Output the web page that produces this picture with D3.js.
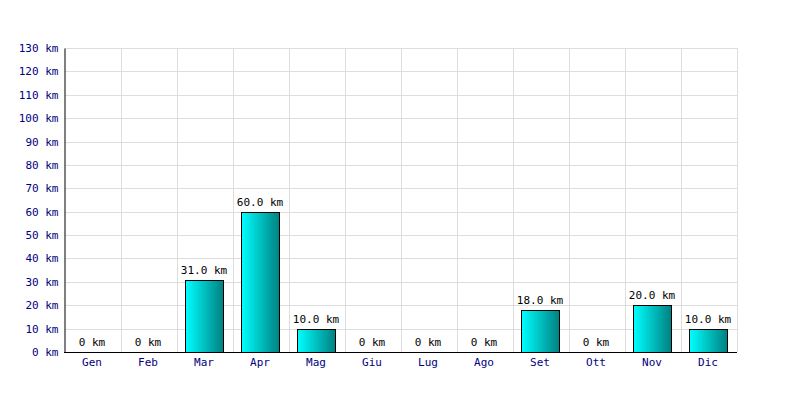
<!DOCTYPE html>
<html><head><meta charset="utf-8">
<script src="https://cdn.jsdelivr.net/npm/d3@7"></script>
<style>body{margin:0;background:#fff}svg text{font-family:"DejaVu Sans Mono",monospace;font-size:11px}</style>
</head><body><svg id="c" width="800" height="400"></svg>
<script>
const months = ["Gen","Feb","Mar","Apr","Mag","Giu","Lug","Ago","Set","Ott","Nov","Dic"];
const km = [0,0,31,60,10,0,0,0,18,0,20,10];
const yTicks = [0,10,20,30,40,50,60,70,80,90,100,110,120,130];

const svg = d3.select("#c");
const L = 65, R = 737, T = 48, B = 352;
const x = d3.scaleBand().domain(months).range([L-1, R-1]).paddingInner(0.32).paddingOuter(0.16);
const xg = d3.scaleBand().domain(months).range([L, R]);
const y = d3.scaleLinear().domain([0,130]).range([B, T]);

const defs = svg.append("defs");
const g = defs.append("linearGradient").attr("id","grad").attr("x1","0%").attr("x2","100%").attr("y1","0%").attr("y2","0%");
g.append("stop").attr("offset","0%").attr("stop-color","#00ffff");
g.append("stop").attr("offset","100%").attr("stop-color","#008080");

// grid
svg.append("g").selectAll("line").data(yTicks.filter(d=>d>0)).join("line")
  .attr("x1",L).attr("x2",R).attr("y1",d=>Math.round(y(d))+0.5).attr("y2",d=>Math.round(y(d))+0.5)
  .attr("stroke","#dddddd");
svg.append("g").selectAll("line").data(months).join("line")
  .attr("x1",d=>xg(d)+xg.bandwidth()+0.5).attr("x2",d=>xg(d)+xg.bandwidth()+0.5)
  .attr("y1",T).attr("y2",B).attr("stroke","#dddddd");

// bars
svg.append("g").selectAll("rect").data(months.map((m,i)=>({m,v:km[i]})).filter(d=>d.v>0)).join("rect")
  .attr("x",d=>Math.round(x(d.m))+0.5).attr("width",Math.round(x.bandwidth()))
  .attr("y",d=>Math.round(y(d.v))+0.5).attr("height",d=>B-Math.round(y(d.v)))
  .attr("fill","url(#grad)").attr("stroke","#000").attr("stroke-width",1);

// value labels
svg.append("g").selectAll("text").data(months.map((m,i)=>({m,v:km[i]}))).join("text")
  .attr("x",d=>x(d.m)+x.bandwidth()/2).attr("y",d=>y(d.v)-6)
  .attr("text-anchor","middle").attr("fill","#000")
  .text(d=>d.v===0?"0 km":d.v.toFixed(1)+" km");

// axes
const ya = d3.axisLeft(y).tickValues(yTicks).tickSize(0).tickPadding(6).tickFormat(d=>d+" km");
svg.append("g").attr("transform",`translate(${L-0.5},0)`).call(ya)
  .call(s=>s.select(".domain").attr("stroke","#000"))
  .call(s=>s.selectAll("text").attr("fill","#000080").style("font-family","DejaVu Sans Mono").style("font-size","11px"));
const xa = d3.axisBottom(x).tickSize(0).tickPadding(6);
svg.append("g").attr("transform",`translate(0,${B+0.5})`).call(xa)
  .call(s=>s.select(".domain").attr("stroke","#000").attr("d",`M${L-1},0H${R}`))
  .call(s=>s.selectAll("text").attr("fill","#000080").style("font-family","DejaVu Sans Mono").style("font-size","11px"));
</script></body></html>
